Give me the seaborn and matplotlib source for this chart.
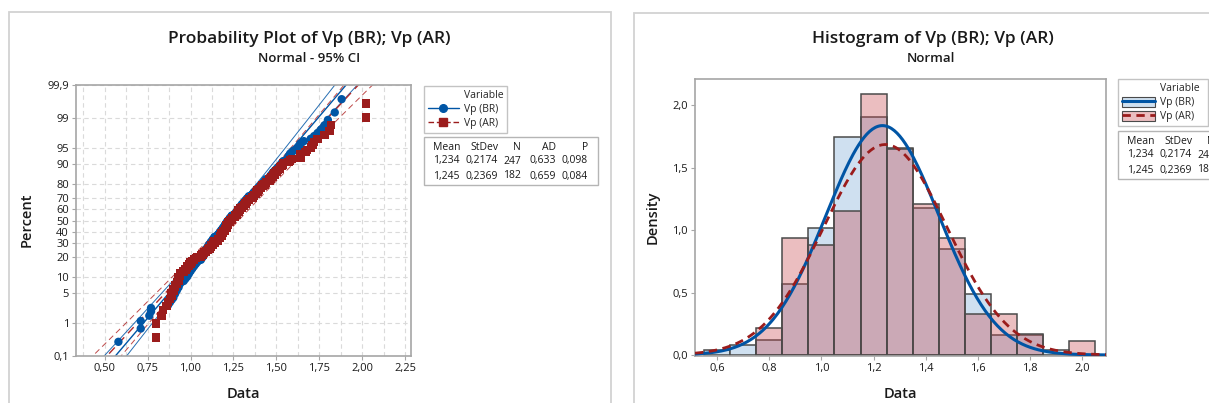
import numpy as np
import pandas as pd
import matplotlib
matplotlib.use("Agg")
import matplotlib.pyplot as plt
from matplotlib.lines import Line2D
from matplotlib.patches import Patch, Rectangle
from statistics import NormalDist
import seaborn as sns

# Vp values (sorted, 2 decimals)
vp_br = [0.58,
         0.71, 0.71,
         0.76, 0.77, 0.77,
         0.87, 0.88, 0.89, 0.90, 0.90, 0.91, 0.91, 0.92, 0.92, 0.93, 0.93, 0.93, 0.94, 0.94,
         0.96, 0.96, 0.97, 0.97, 0.98, 0.98, 0.98, 0.99, 0.99, 0.99, 1.00, 1.00, 1.00,
         1.01, 1.01, 1.01, 1.02, 1.02, 1.02, 1.03, 1.03, 1.03, 1.04, 1.04, 1.04,
         1.06, 1.06, 1.06, 1.06, 1.07, 1.07, 1.07, 1.07, 1.08, 1.08, 1.08, 1.08, 1.08,
         1.09, 1.09, 1.09, 1.09, 1.09, 1.10, 1.10, 1.10, 1.10, 1.10, 1.11, 1.11, 1.11, 1.11, 1.11,
         1.12, 1.12, 1.12, 1.12, 1.12, 1.13, 1.13, 1.13, 1.13, 1.13, 1.14, 1.14, 1.14, 1.14, 1.14,
         1.16, 1.16, 1.16, 1.16, 1.16, 1.17, 1.17, 1.17, 1.17, 1.17, 1.18, 1.18, 1.18, 1.18, 1.18,
         1.19, 1.19, 1.19, 1.19, 1.19, 1.20, 1.20, 1.20, 1.20, 1.20, 1.20, 1.21, 1.21, 1.21, 1.21, 1.21, 1.21,
         1.22, 1.22, 1.22, 1.22, 1.22, 1.23, 1.23, 1.23, 1.23, 1.23, 1.24, 1.24, 1.24, 1.24, 1.24,
         1.26, 1.26, 1.26, 1.26, 1.26, 1.27, 1.27, 1.27, 1.27, 1.27, 1.28, 1.28, 1.28, 1.28, 1.28,
         1.29, 1.29, 1.29, 1.29, 1.29, 1.30, 1.30, 1.30, 1.30, 1.30, 1.31, 1.31, 1.31, 1.31,
         1.32, 1.32, 1.32, 1.32, 1.33, 1.33, 1.33, 1.33, 1.34, 1.34, 1.34, 1.34,
         1.36, 1.36, 1.36, 1.36, 1.37, 1.37, 1.37, 1.37, 1.38, 1.38, 1.38, 1.39, 1.39, 1.39,
         1.40, 1.40, 1.40, 1.41, 1.41, 1.41, 1.42, 1.42, 1.42, 1.43, 1.43, 1.43, 1.44, 1.44, 1.44,
         1.46, 1.46, 1.46, 1.47, 1.47, 1.47, 1.48, 1.48, 1.48, 1.49, 1.49, 1.50, 1.50,
         1.51, 1.51, 1.52, 1.52, 1.53, 1.53, 1.54, 1.54,
         1.56, 1.57, 1.57, 1.57, 1.58, 1.58, 1.59, 1.60, 1.62, 1.63, 1.64, 1.64,
         1.66, 1.70, 1.72, 1.74,
         1.76, 1.78, 1.80, 1.84,
         1.88]

vp_ar = [0.80, 0.80, 0.83, 0.84,
         0.86, 0.87, 0.88, 0.89, 0.89, 0.90, 0.90, 0.91, 0.91, 0.92, 0.92, 0.93, 0.93, 0.93, 0.94, 0.94, 0.94,
         0.96, 0.96, 0.97, 0.97, 0.98, 0.98, 0.99, 0.99, 1.00, 1.00, 1.01, 1.01, 1.02, 1.02, 1.03, 1.04,
         1.06, 1.06, 1.07, 1.07, 1.08, 1.08, 1.09, 1.09, 1.10, 1.10, 1.11, 1.11,
         1.12, 1.12, 1.12, 1.13, 1.13, 1.13, 1.14, 1.14, 1.14,
         1.16, 1.16, 1.16, 1.16, 1.17, 1.17, 1.17, 1.17, 1.18, 1.18, 1.18, 1.18, 1.19, 1.19, 1.19, 1.19,
         1.20, 1.20, 1.20, 1.20, 1.21, 1.21, 1.21, 1.21, 1.21, 1.22, 1.22, 1.22, 1.22, 1.22,
         1.23, 1.23, 1.23, 1.23, 1.24, 1.24, 1.24, 1.24,
         1.26, 1.26, 1.26, 1.26, 1.27, 1.27, 1.27, 1.27, 1.28, 1.28, 1.28, 1.28,
         1.29, 1.29, 1.29, 1.30, 1.30, 1.30, 1.31, 1.31, 1.31, 1.32, 1.32, 1.32,
         1.33, 1.33, 1.33, 1.34, 1.34, 1.34,
         1.36, 1.36, 1.36, 1.37, 1.37, 1.37, 1.38, 1.38, 1.38, 1.39, 1.39, 1.39,
         1.40, 1.40, 1.41, 1.41, 1.42, 1.42, 1.43, 1.43, 1.44, 1.44,
         1.46, 1.46, 1.46, 1.47, 1.47, 1.48, 1.48, 1.49, 1.49, 1.50, 1.50, 1.51, 1.52, 1.52, 1.53, 1.54, 1.54,
         1.57, 1.58, 1.59, 1.64, 1.64, 1.64,
         1.67, 1.68, 1.70, 1.71, 1.72, 1.74,
         1.78, 1.81, 1.82,
         2.02, 2.02]

names = ["Vp (BR)", "Vp (AR)"]
means = [1.234, 1.245]
stdevs = [0.2174, 0.2369]

stat_cols = ["Mean", "StDev", "N", "AD", "P"]
stat_br = ["1,234", "0,2174", "247", "0,633", "0,098"]
stat_ar = ["1,245", "0,2369", "182", "0,659", "0,084"]

pct_ticks = [0.1, 1, 5, 10, 20, 30, 40, 50, 60, 70, 80, 90, 95, 99, 99.9]

BLUE = "#0055A5"
RED = "#9B1C1C"
BAR_BR = "#CFE0F0"
BAR_AR = (198 / 255, 69 / 255, 75 / 255, 0.35)
EDGE = "#4a4a4a"
FRAME = "#a6a6a6"
TXT = "#1a1a1a"

sns.set_style("ticks")
plt.rcParams["font.family"] = ["Open Sans", "DejaVu Sans"]

W, H = 1209, 403
fig = plt.figure(figsize=(W / 100, H / 100), dpi=100)


def fx(px):
    return px / W


def fy(py):
    return 1 - py / H


def comma(v, fmt):
    return (fmt % v).replace(".", ",")


# panel frames
for x0, x1, y0 in [(9, 611, 12), (634, 1215, 13)]:
    fig.patches.append(Rectangle((fx(x0), fy(420)), (x1 - x0) / W, (420 - y0) / H,
                                 transform=fig.transFigure, fill=False,
                                 edgecolor="#d2d2d2", lw=1.3))

nd = NormalDist()

### Probability plot
ax1 = fig.add_axes([fx(76), fy(356), (411 - 76) / W, (356 - 85) / H])

frames = []
for vals, nm in zip([vp_br, vp_ar], names):
    v = np.sort(np.array(vals))
    n = len(v)
    p = (np.arange(1, n + 1) - 0.3) / (n + 0.4)
    frames.append(pd.DataFrame({"Data": v, "z": [nd.inv_cdf(q) for q in p], "Variable": nm}))
pp = pd.concat(frames, ignore_index=True)

# grid
for gx in np.arange(0.375, 2.26, 0.125):
    ax1.axvline(gx, color="#dadada", lw=0.8, ls=(0, (4, 3)), zorder=0)
for pt in pct_ticks:
    ax1.axhline(nd.inv_cdf(pt / 100), color="#dadada", lw=0.8, ls=(0, (4, 3)), zorder=0)

# fitted lines and 95% CI
zz = np.linspace(-3.5, 3.5, 200)
for nm, mu, sd, n, col, ls in zip(names, means, stdevs, [len(vp_br), len(vp_ar)],
                                  [BLUE, "#B22A2A"], ["-", (0, (6, 4))]):
    half = 1.96 * sd * np.sqrt(1 / n + zz ** 2 / (2 * n))
    ax1.plot(mu + sd * zz, zz, color=col, lw=1.0, ls=ls, zorder=2)
    ax1.plot(mu + sd * zz - half, zz, color=col, lw=0.7, ls=ls, alpha=0.85, zorder=2)
    ax1.plot(mu + sd * zz + half, zz, color=col, lw=0.7, ls=ls, alpha=0.85, zorder=2)

sns.scatterplot(data=pp, x="Data", y="z", hue="Variable", style="Variable",
                palette={names[0]: BLUE, names[1]: RED},
                markers={names[0]: "o", names[1]: "s"},
                s=36, linewidth=0, legend=False, ax=ax1, zorder=3)

ax1.set_xlim(0.333, 2.284)
ax1.set_ylim(nd.inv_cdf(0.001), nd.inv_cdf(0.999))
xt = np.arange(0.5, 2.26, 0.25)
ax1.set_xticks(xt)
ax1.set_xticklabels([comma(v, "%.2f") for v in xt])
ax1.set_yticks([nd.inv_cdf(pt / 100) for pt in pct_ticks])
ax1.set_yticklabels([comma(pt, "%g") for pt in pct_ticks])
ax1.set_xlabel("Data", fontsize=10.5, fontweight="semibold", color=TXT)
ax1.set_ylabel("Percent", fontsize=10.5, fontweight="semibold", color=TXT)
ax1.xaxis.set_label_coords(0.4985, -0.114)
ax1.yaxis.set_label_coords(-0.125, 0.502)

### Histogram
ax2 = fig.add_axes([fx(695), fy(356), (1106 - 695) / W, (356 - 79) / H])
edges = np.arange(0.55, 2.1, 0.1)
sns.histplot(x=vp_br, bins=edges, stat="density", color=BAR_BR, alpha=1,
             edgecolor=EDGE, linewidth=1.1, ax=ax2)
n_br = len(ax2.patches)
sns.histplot(x=vp_ar, bins=edges, stat="density", color=BAR_AR[:3], alpha=0.35,
             edgecolor=EDGE, linewidth=1.1, ax=ax2)
for i, patch in enumerate(ax2.patches):
    if i >= n_br:
        patch.set_alpha(None)
        patch.set_facecolor(BAR_AR)
        patch.set_edgecolor(EDGE)
    if patch.get_height() == 0:
        patch.set_visible(False)

xs = np.linspace(0.515, 2.092, 300)
for mu, sd, col, ls, lw in zip(means, stdevs, [BLUE, RED], ["-", (0, (3, 2))], [2.2, 2.0]):
    pdf = [NormalDist(mu, sd).pdf(x) for x in xs]
    sns.lineplot(x=xs, y=pdf, color=col, lw=lw, ls=ls, ax=ax2, zorder=4)

ax2.set_xlim(0.5147, 2.092)
ax2.set_ylim(-0.008, 2.208)
xt2 = np.arange(0.6, 2.01, 0.2)
ax2.set_xticks(xt2)
ax2.set_xticklabels([comma(v, "%.1f") for v in xt2])
yt2 = np.arange(0, 2.01, 0.5)
ax2.set_yticks(yt2)
ax2.set_yticklabels([comma(v, "%.1f") for v in yt2])
ax2.set_xlabel("Data", fontsize=10.5, fontweight="semibold", color=TXT)
ax2.set_ylabel("Density", fontsize=10.5, fontweight="semibold", color=TXT)
ax2.xaxis.set_label_coords(0.499, -0.112)
ax2.yaxis.set_label_coords(-0.085, 0.502)

for ax in (ax1, ax2):
    for sp in ax.spines.values():
        sp.set_visible(True)
        sp.set_color(FRAME)
        sp.set_linewidth(1.2)
    ax.tick_params(length=3, width=0.8, color=FRAME, labelsize=8, labelcolor=TXT, pad=2)

# titles
fig.text(fx(309), fy(39), "Probability Plot of Vp (BR); Vp (AR)", ha="center", va="center",
         fontsize=12.5, fontweight="semibold", color=TXT)
fig.text(fx(309), fy(59), "Normal - 95% CI", ha="center", va="center",
         fontsize=9.5, fontweight="semibold", color=TXT)
fig.text(fx(933), fy(39), "Histogram of Vp (BR); Vp (AR)", ha="center", va="center",
         fontsize=12.5, fontweight="semibold", color=TXT)
fig.text(fx(931), fy(59), "Normal", ha="center", va="center",
         fontsize=9.5, fontweight="semibold", color=TXT)

# legends
blank = Line2D([], [], lw=0)
h1 = [blank,
      Line2D([], [], color=BLUE, lw=1, marker="o", ms=5.5),
      Line2D([], [], color=RED, lw=1, ls=(0, (4, 2)), marker="s", ms=5.5)]
leg1 = fig.legend(handles=h1, labels=["Variable"] + names, loc="upper left",
                  bbox_to_anchor=(fx(424), fy(86)), frameon=True, fancybox=False,
                  edgecolor="#b5b5b5", fontsize=7.5, handlelength=3.0, handletextpad=0.5,
                  borderpad=0.35, labelspacing=0.3, borderaxespad=0)
leg1.get_frame().set_linewidth(1.0)

h2 = [blank,
      (Patch(facecolor=BAR_BR, edgecolor=EDGE, lw=0.8), Line2D([], [], color=BLUE, lw=2.2)),
      (Patch(facecolor="#EBBEC0", edgecolor=EDGE, lw=0.8),
       Line2D([], [], color=RED, lw=2.0, ls=(0, (3, 2))))]
leg2 = fig.legend(handles=h2, labels=["Variable"] + names, loc="upper left",
                  bbox_to_anchor=(fx(1118), fy(127), (1208 - 1118) / W, (127 - 79) / H),
                  mode="expand", frameon=True, fancybox=False,
                  edgecolor="#b5b5b5", fontsize=7.5, handlelength=3.2, handleheight=1.1,
                  handletextpad=0.5, borderpad=0.35, labelspacing=0.25, borderaxespad=0)
leg2.get_frame().set_linewidth(1.0)

# statistics tables (the right one runs off the edge, as in the original)
col_off = [36, 74, 97, 131.5, 164]
for bx, by, ncol in [(424, 137, 5), (1118, 131, 3)]:
    fig.patches.append(Rectangle((fx(bx), fy(by + 48)), 174 / W, 48 / H,
                                 transform=fig.transFigure, fill=False,
                                 edgecolor="#b5b5b5", lw=1.0))
    for row, dy in zip([stat_cols, stat_br, stat_ar], [11, 24, 39]):
        for txt, off in zip(row[:ncol], col_off[:ncol]):
            fig.text(fx(bx + off), fy(by + dy), txt, ha="right", va="center",
                     fontsize=7.5, color=TXT)

fig.savefig("out.png", dpi=100)
